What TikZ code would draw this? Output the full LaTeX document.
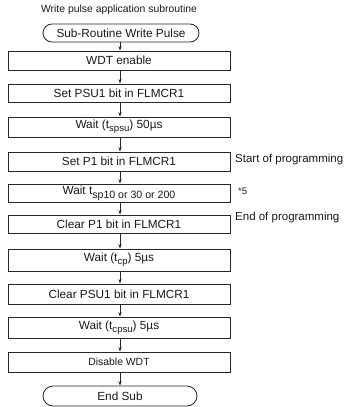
\documentclass[tikz,border=0pt]{standalone}
\usepackage{fontspec}
\setmainfont{Liberation Sans}
\usetikzlibrary{arrows.meta}
\newcommand{\sbs}[2][9.6]{\raisebox{-2.6pt}{\fontsize{#1}{#1}\selectfont #2}}
\begin{document}
\begin{tikzpicture}[x=1pt,y=-1pt,
  stepbox/.style={draw=black!85, line width=0.8pt, minimum width=222pt, inner sep=0pt, text=black!90, font=\fontsize{11.8}{12}\selectfont},
  termbox/.style={draw=black!85, line width=0.8pt, minimum width=156pt, minimum height=18pt, inner sep=0pt, rounded corners=9pt, text=black!90, font=\fontsize{11.8}{12}\selectfont},
  sidelabel/.style={anchor=west, inner sep=0pt, text=black!90, font=\fontsize{11.5}{12}\selectfont},
  arr/.style={draw=black!85, line width=0.7pt, -{Stealth[length=4.5pt,width=3.2pt]}}]
\useasboundingbox (0,0) rectangle (344,407);
\node[inner sep=0pt, text=black!90, font=\fontsize{10.4}{11}\selectfont] (title) at (119,10) {Write pulse application subroutine};
\node[termbox] (start) at (121,33) {Sub-Routine Write Pulse};
\node[stepbox, minimum height=19pt] (wdt) at (119,60.5) {WDT enable};
\node[stepbox, minimum height=18pt] (psu) at (119,93) {Set PSU1 bit in FLMCR1};
\node[stepbox, minimum height=20pt] (w1) at (119,127) {Wait (t\sbs{spsu}) 50µs};
\node[stepbox, minimum height=19pt] (p1) at (119,161.5) {Set P1 bit in FLMCR1};
\node[stepbox, minimum height=18pt] (w2) at (119,193) {\raisebox{1.5pt}{Wait t}\sbs[10.6]{sp10 or 30 or 200}};
\node[stepbox, minimum height=18pt] (cp1) at (119,224) {Clear P1 bit in FLMCR1};
\node[stepbox, minimum height=22pt] (w3) at (119,260) {Wait (t\sbs{cp}) 5µs};
\node[stepbox, minimum height=20pt] (cpsu) at (119,294) {Clear PSU1 bit in FLMCR1};
\node[stepbox, minimum height=21pt] (w4) at (119,327.5) {Wait (t\sbs{cpsu}) 5µs};
\node[stepbox, minimum height=20pt, font=\fontsize{10.4}{11}\selectfont] (dis) at (119,362) {Disable WDT};
\node[termbox, minimum width=154pt, minimum height=20pt, rounded corners=10pt] (end) at (120,396) {End Sub};
\node[sidelabel] (l1) at (235,160) {Start of programming};
\node[sidelabel, font=\fontsize{9.5}{10}\selectfont] (l2) at (238,191) {*5};
\node[sidelabel] (l3) at (235,218) {End of programming};
\draw[arr] (start.south -| 120,0) -- (wdt.north -| 120,0);
\foreach \a/\b in {wdt/psu, psu/w1, w1/p1, p1/w2, w2/cp1, cp1/w3, w3/cpsu, cpsu/w4, w4/dis, dis/end}
  \draw[arr] (\a.south -| 120,0) -- (\b.north -| 120,0);
\end{tikzpicture}
\end{document}
